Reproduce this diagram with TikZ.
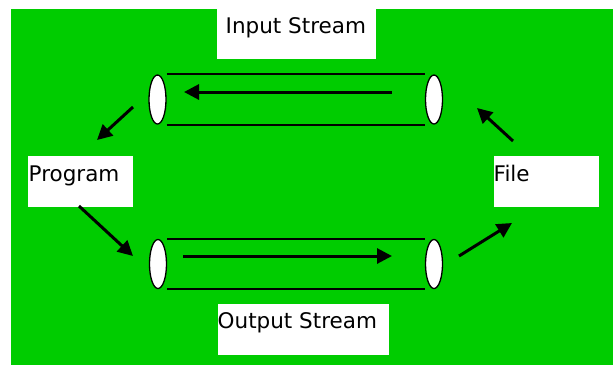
\documentclass[tikz,border=0pt]{standalone}
\usepackage{fontspec}
\setmainfont{DejaVu Sans}
\usetikzlibrary{shapes.geometric,arrows.meta,calc}
\definecolor{bggreen}{RGB}{0,204,0}
\begin{document}
\begin{tikzpicture}[x=1pt,y=-1pt,
  labelbox/.style={fill=white,draw=none,inner sep=0pt,anchor=north west,minimum width=#1,minimum height=51pt},
  labeltext/.style={inner sep=0pt,anchor=base west,font=\fontsize{21.5}{25}\selectfont},
  pipeend/.style={ellipse,draw=black,fill=white,line width=1.3pt,inner sep=0pt,minimum width=17pt,minimum height=49pt},
  pipeline/.style={line width=1.8pt},
  flow/.style={line width=3pt,-{Triangle[length=15pt,width=15pt]}}]
\useasboundingbox (0,0) rectangle (613,365);
\fill[white] (0,0) rectangle (613,365);
\fill[bggreen] (11,9) rectangle (613,365);
% label boxes
\node[labelbox=159pt] (inbox) at (217,8) {};
\node[labeltext] (intext) at (225.5,33) {Input Stream};
\node[labelbox=105pt] (progbox) at (28,156) {};
\node[labeltext] (progtext) at (28.5,181) {Program};
\node[labelbox=105pt] (filebox) at (494,156) {};
\node[labeltext] (filetext) at (493.5,181) {File};
\node[labelbox=171pt] (outbox) at (218,304) {};
\node[labeltext] (outtext) at (217.5,328) {Output Stream};
% top pipe
\node[pipeend] (inL) at (157.5,99.5) {};
\node[pipeend] (inR) at (434,99.5) {};
\draw[pipeline] (inL.north -| inL.east) -- (inR.north -| inR.west);
\draw[pipeline] (inL.south -| inL.east) -- (inR.south -| inR.west);
% bottom pipe
\node[pipeend] (outL) at (158,264) {};
\node[pipeend] (outR) at (434,264) {};
\draw[pipeline] (outL.north -| outL.east) -- (outR.north -| outR.west);
\draw[pipeline] (outL.south -| outL.east) -- (outR.south -| outR.west);
% arrow end points
\coordinate (inA) at (392,92);
\coordinate (inB) at (184,92);
\coordinate (outA) at (183,256);
\coordinate (outB) at (392,256);
\coordinate (d1a) at (133,107);
\coordinate (d1b) at (97,140);
\coordinate (d2a) at (79,206);
\coordinate (d2b) at (133,256);
\coordinate (d3a) at (459,256);
\coordinate (d3b) at (512,223);
\coordinate (d4a) at (513,141);
\coordinate (d4b) at (477,108);
\draw[flow] (inA) -- (inB);
\draw[flow] (outA) -- (outB);
\draw[flow] (d1a) -- (d1b);
\draw[flow] (d2a) -- (d2b);
\draw[flow] (d3a) -- (d3b);
\draw[flow] (d4a) -- (d4b);
\end{tikzpicture}
\end{document}
